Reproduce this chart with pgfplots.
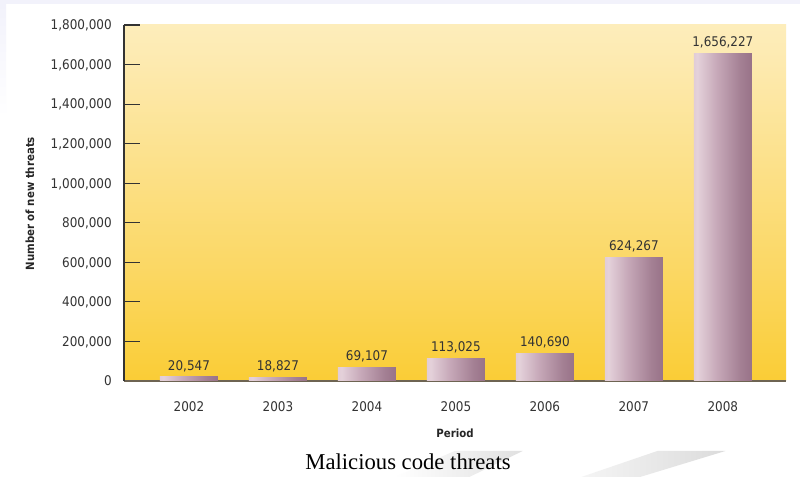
\documentclass[border=0pt]{standalone}
\usepackage{pgfplots}
\pgfplotsset{compat=1.18}
\usepackage{fontspec}
\setmainfont{Liberation Serif}
\newfontfamily\tahoma{DejaVu Sans Condensed}

\definecolor{lav}{HTML}{F2F2FB}
\definecolor{txt}{HTML}{333333}
\definecolor{xax}{HTML}{6E6452}
\definecolor{bg0}{HTML}{F8BE00}
\definecolor{bg1}{HTML}{F9C618}
\definecolor{bg2}{HTML}{FBD762}
\definecolor{bg3}{HTML}{FDEAB0}
\definecolor{bg4}{HTML}{FFFCF2}
\definecolor{br0}{HTML}{BC9CAE}
\definecolor{br1}{HTML}{D4BCC8}
\definecolor{br2}{HTML}{E4D1DA}
\definecolor{br3}{HTML}{C6A8B8}
\definecolor{br4}{HTML}{A48094}
\definecolor{br5}{HTML}{8E667E}
\definecolor{br6}{HTML}{8E6A80}
\definecolor{br7}{HTML}{A68A9A}

\pgfdeclareverticalshading{bgshade}{100bp}{color(0bp)=(bg0); color(15bp)=(bg1); color(40bp)=(bg2); color(70bp)=(bg3); color(100bp)=(bg4)}
\pgfdeclarehorizontalshading{barshade}{100bp}{color(0bp)=(br0); color(12bp)=(br1); color(28bp)=(br2); color(45bp)=(br3); color(65bp)=(br4); color(84bp)=(br5); color(94bp)=(br6); color(100bp)=(br7)}

\pgfplotstableread{
x y label
0 20547 20,547
1 18827 18,827
2 69107 69,107
3 113025 113,025
4 140690 140,690
5 624267 624,267
6 1656227 1,656,227
}\threats

\begin{document}
\begin{tikzpicture}
\useasboundingbox (0,0) rectangle (600pt,357.75pt);
\fill[white] (0,0) rectangle (600pt,357.75pt);
\fill[lav] (0,354.75pt) rectangle (600pt,357.75pt);
\shade[top color=lav,bottom color=white] (0,270pt) rectangle (4.5pt,354.75pt);
% decorative swoosh
\shade[left color=white,right color=black!12] (296pt,0) -- (341pt,19.5pt) -- (392pt,19.5pt) -- (352pt,0) -- cycle;
\shade[left color=black!4,right color=black!14] (436pt,0) -- (493pt,19.5pt) -- (544pt,19.5pt) -- (480pt,0) -- cycle;

\begin{axis}[
  at={(93pt,72pt)}, anchor=south west,
  scale only axis,
  width=496.5pt, height=267pt,
  xmin=-0.73, xmax=6.71,
  ymin=0, ymax=1800000,
  axis x line=bottom, axis y line=left,
  x axis line style={-, draw=xax, line width=1.3pt},
  y axis line style={-, draw=txt, line width=0.8pt},
  axis background/.style={shading=bgshade},
  xtick={0,...,6},
  xticklabels={2002,2003,2004,2005,2006,2007,2008},
  xtick style={draw=none},
  ytick={0,200000,...,1800000},
  ytick style={draw=txt, line width=0.8pt},
  tick align=inside,
  major tick length=12pt,
  scaled y ticks=false,
  /pgf/number format/.cd, fixed, 1000 sep={,}, assume math mode=true,
  /pgfplots/.cd,
  ticklabel style={font=\tahoma\fontsize{10}{12}\selectfont, text=txt},
  xticklabel style={anchor=base, yshift=-23pt},
  yticklabel style={anchor=base east, inner sep=0pt, xshift=-9pt, yshift=-3.6pt},
  clip=false,
]
% one plot per bar so that each bar gets its own cylinder shading
\pgfplotsinvokeforeach{0,...,6}{
\addplot[ybar, bar width=43.5pt, bar shift=0pt, draw=none, shading=barshade, shade,
  restrict expr to domain={\coordindex}{#1:#1},
  point meta=explicit symbolic,
  nodes near coords,
  nodes near coords style={font=\tahoma\fontsize{10}{12}\selectfont, text=txt, anchor=base, inner sep=0pt, yshift=5pt},
] table[x=x, y=y, meta=label] {\threats};
}
\end{axis}

\node[rotate=90, font=\tahoma\bfseries\fontsize{8.5}{10}\selectfont, text=black!85] at (22.5pt,205pt) {Number of new threats};
\node[font=\tahoma\bfseries\fontsize{8.5}{10}\selectfont, text=black!85] at (341.25pt,33pt) {Period};
\node[anchor=base, font=\fontsize{17}{20}\selectfont, text=black] at (306pt,5.25pt) {Malicious code threats};
\end{tikzpicture}
\end{document}
